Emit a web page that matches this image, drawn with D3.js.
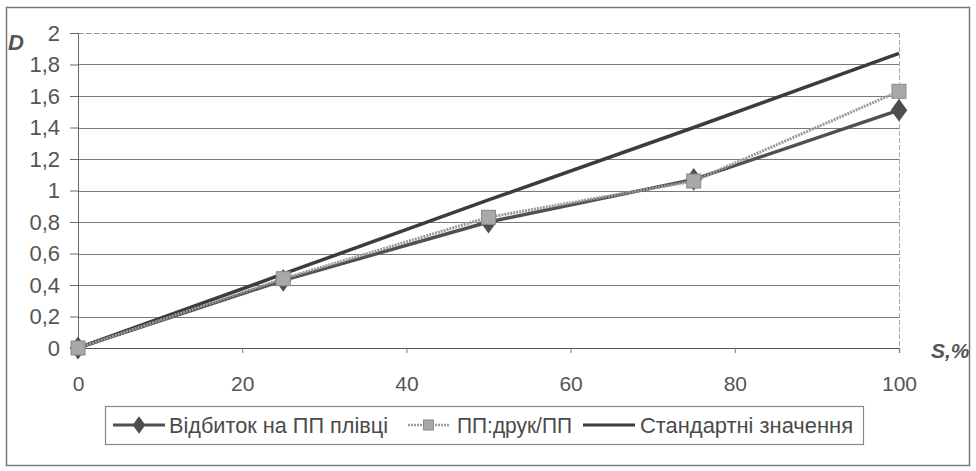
<!DOCTYPE html>
<html>
<head>
<meta charset="utf-8">
<script src="https://cdn.jsdelivr.net/npm/d3@7"></script>
<style>
  html, body { margin: 0; padding: 0; background: #fff; }
  svg { display: block; }
  text { font-family: "Liberation Sans", Arial, sans-serif; }
</style>
</head>
<body>
<svg id="chart" width="976" height="471"></svg>
<script>
// Coverage S (%) on the x axis, optical density D on the y axis
const coverage = [0, 25, 50, 75, 100];
const printOnFilm = [0, 0.43, 0.80, 1.07, 1.51];   // Відбиток на ПП плівці
const filmPrintFilm = [0, 0.44, 0.83, 1.06, 1.63]; // ПП:друк/ПП
const standard = [0, 0.47, 0.94, 1.40, 1.87];      // Стандартні значення

const xTicks = [0, 20, 40, 60, 80, 100];
const yTicks = [0, 0.2, 0.4, 0.6, 0.8, 1, 1.2, 1.4, 1.6, 1.8, 2];
const seriesNames = ["Відбиток на ПП плівці", "ПП:друк/ПП", "Стандартні значення"];

const svg = d3.select("#chart");

// outer frame
svg.append("rect")
  .attr("x", 6.5).attr("y", 7.5).attr("width", 963).attr("height", 458)
  .attr("fill", "#fff").attr("stroke", "#777").attr("stroke-width", 1.5);

const x = d3.scaleLinear().domain([0, 100]).range([78, 899]);
const y = d3.scaleLinear().domain([0, 2]).range([348, 33]);

const fmt = d => String(d).replace(".", ",");

// horizontal gridlines
svg.append("g").selectAll("line")
  .data(yTicks.filter(d => d > 0))
  .join("line")
  .attr("x1", x(0)).attr("x2", x(100))
  .attr("y1", d => Math.round(y(d)) + 0.5).attr("y2", d => Math.round(y(d)) + 0.5)
  .attr("stroke", d => d === 2 ? "#999" : "#777")
  .attr("stroke-width", 1)
  .attr("stroke-dasharray", d => d === 2 ? "6 2" : null);

// right edge of the plot area
svg.append("line")
  .attr("x1", x(100) + 0.5).attr("x2", x(100) + 0.5)
  .attr("y1", y(2)).attr("y2", y(0))
  .attr("stroke", "#aaa").attr("stroke-dasharray", "5 2");

// y axis
const yAxis = d3.axisLeft(y).tickValues(yTicks).tickFormat(fmt).tickSize(8).tickPadding(10);
const gy = svg.append("g").attr("transform", `translate(${x(0)},0)`).call(yAxis);
gy.select(".domain").attr("stroke", "#666");
gy.selectAll(".tick line").attr("stroke", "#666");
gy.selectAll(".tick text")
  .attr("font-family", "Liberation Sans, Arial, sans-serif")
  .attr("font-size", 22).attr("fill", "#555");

// x axis
const xAxis = d3.axisBottom(x).tickValues(xTicks).tickSize(5).tickPadding(23);
const gx = svg.append("g").attr("transform", `translate(0,${y(0)})`).call(xAxis);
gx.select(".domain").attr("stroke", "#555").attr("stroke-width", 1.2);
gx.selectAll(".tick line").attr("stroke", "#777");
gx.selectAll(".tick text")
  .attr("font-family", "Liberation Sans, Arial, sans-serif")
  .attr("font-size", 21).attr("fill", "#555");

// axis titles
svg.append("text").attr("x", 8).attr("y", 50)
  .attr("font-size", 22).attr("font-weight", "bold").attr("font-style", "italic")
  .attr("fill", "#555").text("D");
svg.append("text").attr("x", 931).attr("y", 358)
  .attr("font-size", 21).attr("font-weight", "bold").attr("font-style", "italic")
  .attr("fill", "#555").text("S,%");

const line = vals => d3.line()
  .x((d, i) => x(coverage[i]))
  .y(d => y(d))(vals);

// standard values
svg.append("path").attr("d", line(standard))
  .attr("fill", "none").attr("stroke", "#3c3c3c").attr("stroke-width", 3.5);

// print on PP film: dark line with diamonds
svg.append("path").attr("d", line(printOnFilm))
  .attr("fill", "none").attr("stroke", "#505050").attr("stroke-width", 3.4);
const diamond = d3.symbol().type(d3.symbolDiamond).size(150);
svg.append("g").selectAll("path")
  .data(printOnFilm)
  .join("path")
  .attr("d", diamond)
  .attr("transform", (d, i) => `translate(${x(coverage[i])},${y(d)}) scale(1.25,1)`)
  .attr("fill", "#4e4e4e");

// PP:print/PP: light grey line with squares
svg.append("path").attr("d", line(filmPrintFilm))
  .attr("fill", "none").attr("stroke", "#9a9a9a").attr("stroke-width", 3)
  .attr("stroke-dasharray", "2 1");
svg.append("g").selectAll("rect")
  .data(filmPrintFilm)
  .join("rect")
  .attr("x", (d, i) => x(coverage[i]) - 7).attr("y", d => y(d) - 7)
  .attr("width", 14).attr("height", 14)
  .attr("fill", "#a8a8a8").attr("stroke", "#8a8a8a").attr("stroke-width", 1);

// legend
const lg = svg.append("g");
lg.append("rect").attr("x", 105.5).attr("y", 406.5).attr("width", 758).attr("height", 38)
  .attr("fill", "#fff").attr("stroke", "#888").attr("stroke-width", 1.2);

const legendItems = [
  { name: seriesNames[0], x0: 113, x1: 165, tx: 169, tw: 219 },
  { name: seriesNames[1], x0: 408, x1: 449, tx: 457, tw: 115 },
  { name: seriesNames[2], x0: 583, x1: 635, tx: 640, tw: 213 }
];
const ly = 425;
legendItems.forEach((it, i) => {
  const stroke = i === 1 ? "#9a9a9a" : (i === 0 ? "#505050" : "#3c3c3c");
  lg.append("line").attr("x1", it.x0).attr("x2", it.x1).attr("y1", ly).attr("y2", ly)
    .attr("stroke", stroke).attr("stroke-width", i === 1 ? 2.5 : 3)
    .attr("stroke-dasharray", i === 1 ? "2 1" : null);
  if (i === 0) {
    lg.append("path").attr("d", d3.symbol().type(d3.symbolDiamond).size(90)())
      .attr("transform", `translate(${(it.x0 + it.x1) / 2},${ly}) scale(1.25,1)`)
      .attr("fill", "#4e4e4e");
  } else if (i === 1) {
    lg.append("rect").attr("x", (it.x0 + it.x1) / 2 - 5).attr("y", ly - 5)
      .attr("width", 10).attr("height", 10)
      .attr("fill", "#a8a8a8").attr("stroke", "#8a8a8a");
  }
  lg.append("text").attr("x", it.tx).attr("y", ly + 8)
    .attr("font-size", 22).attr("fill", "#4a4a4a")
    .attr("textLength", it.tw).attr("lengthAdjust", "spacingAndGlyphs")
    .text(it.name);
});
</script>
</body>
</html>
